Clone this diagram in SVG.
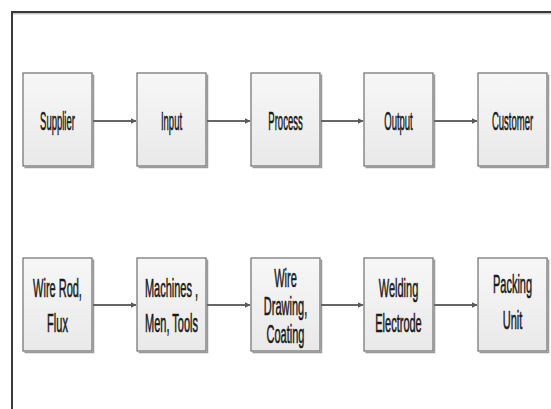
<svg xmlns="http://www.w3.org/2000/svg" width="551" height="409" viewBox="0 0 551 409">
<defs>
<linearGradient id="g" x1="0" y1="0" x2="0" y2="1">
<stop offset="0" stop-color="#f7f7f7"/>
<stop offset="1" stop-color="#e9e9e9"/>
</linearGradient>
<marker id="ah" markerWidth="6" markerHeight="6" refX="5.5" refY="3" orient="auto" markerUnits="userSpaceOnUse">
<path d="M0,0 L6,3 L0,6 Z" fill="#5a5a5a"/>
</marker>
<style>
.box{fill:url(#g);stroke:#6e6e6e;stroke-width:1.2}
.sh{fill:none;stroke:#9a9a9a;stroke-width:1.5}
.t{font-family:"Liberation Sans",Arial,sans-serif;font-size:25px;fill:#1a1a1a;stroke:#1a1a1a;stroke-width:0.6;text-anchor:middle}
.c{stroke:#666;stroke-width:2;fill:none;marker-end:url(#ah)}
</style>
</defs>
<rect width="551" height="409" fill="#fff"/>
<path d="M12,409 L12,12 L551,12" fill="none" stroke="#3a3a3a" stroke-width="2"/>
<line x1="13" y1="13.8" x2="551" y2="13.8" stroke="#aaa" stroke-width="1"/>

<g id="supplier"><path class="sh" d="M24.5,167.5 H93.5 V74.5"/><rect class="box" x="23" y="73" width="69" height="93"/><text class="t" transform="translate(57.5,130) scale(0.38,1)">Supplier</text></g>
<g id="input"><path class="sh" d="M138.5,167.5 H207.5 V74.5"/><rect class="box" x="137" y="73" width="69" height="93"/><text class="t" transform="translate(171.5,130) scale(0.38,1)">Input</text></g>
<g id="process"><path class="sh" d="M252.5,167.5 H321.5 V74.5"/><rect class="box" x="251" y="73" width="69" height="93"/><text class="t" transform="translate(285.5,130) scale(0.38,1)">Process</text></g>
<g id="output"><path class="sh" d="M365.5,167.5 H434.5 V74.5"/><rect class="box" x="364" y="73" width="69" height="93"/><text class="t" transform="translate(398.5,130) scale(0.38,1)">Output</text></g>
<g id="customer"><path class="sh" d="M479.5,167.5 H548.5 V74.5"/><rect class="box" x="478" y="73" width="69" height="93"/><text class="t" transform="translate(512.5,130) scale(0.38,1)">Customer</text></g>

<g id="wirerod"><path class="sh" d="M24.5,352.5 H93.5 V259.5"/><rect class="box" x="23" y="258" width="69" height="93"/><text class="t" transform="translate(57.5,297) scale(0.44,1)"><tspan x="0">Wire Rod,</tspan><tspan x="0" dy="35">Flux</tspan></text></g>
<g id="machines"><path class="sh" d="M138.5,352.5 H207.5 V259.5"/><rect class="box" x="137" y="258" width="69" height="93"/><text class="t" transform="translate(171.5,297) scale(0.44,1)"><tspan x="0">Machines ,</tspan><tspan x="0" dy="35">Men, Tools</tspan></text></g>
<g id="drawing"><path class="sh" d="M252.5,352.5 H321.5 V259.5"/><rect class="box" x="251" y="258" width="69" height="93"/><text class="t" transform="translate(285.5,287) scale(0.44,1)"><tspan x="0">Wire</tspan><tspan x="0" dy="28">Drawing,</tspan><tspan x="0" dy="28">Coating</tspan></text></g>
<g id="electrode"><path class="sh" d="M365.5,352.5 H434.5 V259.5"/><rect class="box" x="364" y="258" width="69" height="93"/><text class="t" transform="translate(398.5,297) scale(0.44,1)"><tspan x="0">Welding</tspan><tspan x="0" dy="35">Electrode</tspan></text></g>
<g id="packing"><path class="sh" d="M479.5,352.5 H548.5 V259.5"/><rect class="box" x="478" y="258" width="69" height="93"/><text class="t" transform="translate(512.5,293) scale(0.44,1)"><tspan x="0">Packing</tspan><tspan x="0" dy="36">Unit</tspan></text></g>

<g id="connectors">
<line class="c" x1="93" y1="121" x2="136" y2="121"/>
<line class="c" x1="207" y1="121" x2="250" y2="121"/>
<line class="c" x1="321" y1="121" x2="363" y2="121"/>
<line class="c" x1="434" y1="121" x2="477" y2="121"/>
<line class="c" x1="93" y1="305" x2="136" y2="305"/>
<line class="c" x1="207" y1="305" x2="250" y2="305"/>
<line class="c" x1="321" y1="305" x2="363" y2="305"/>
<line class="c" x1="434" y1="305" x2="477" y2="305"/>
</g>
</svg>
